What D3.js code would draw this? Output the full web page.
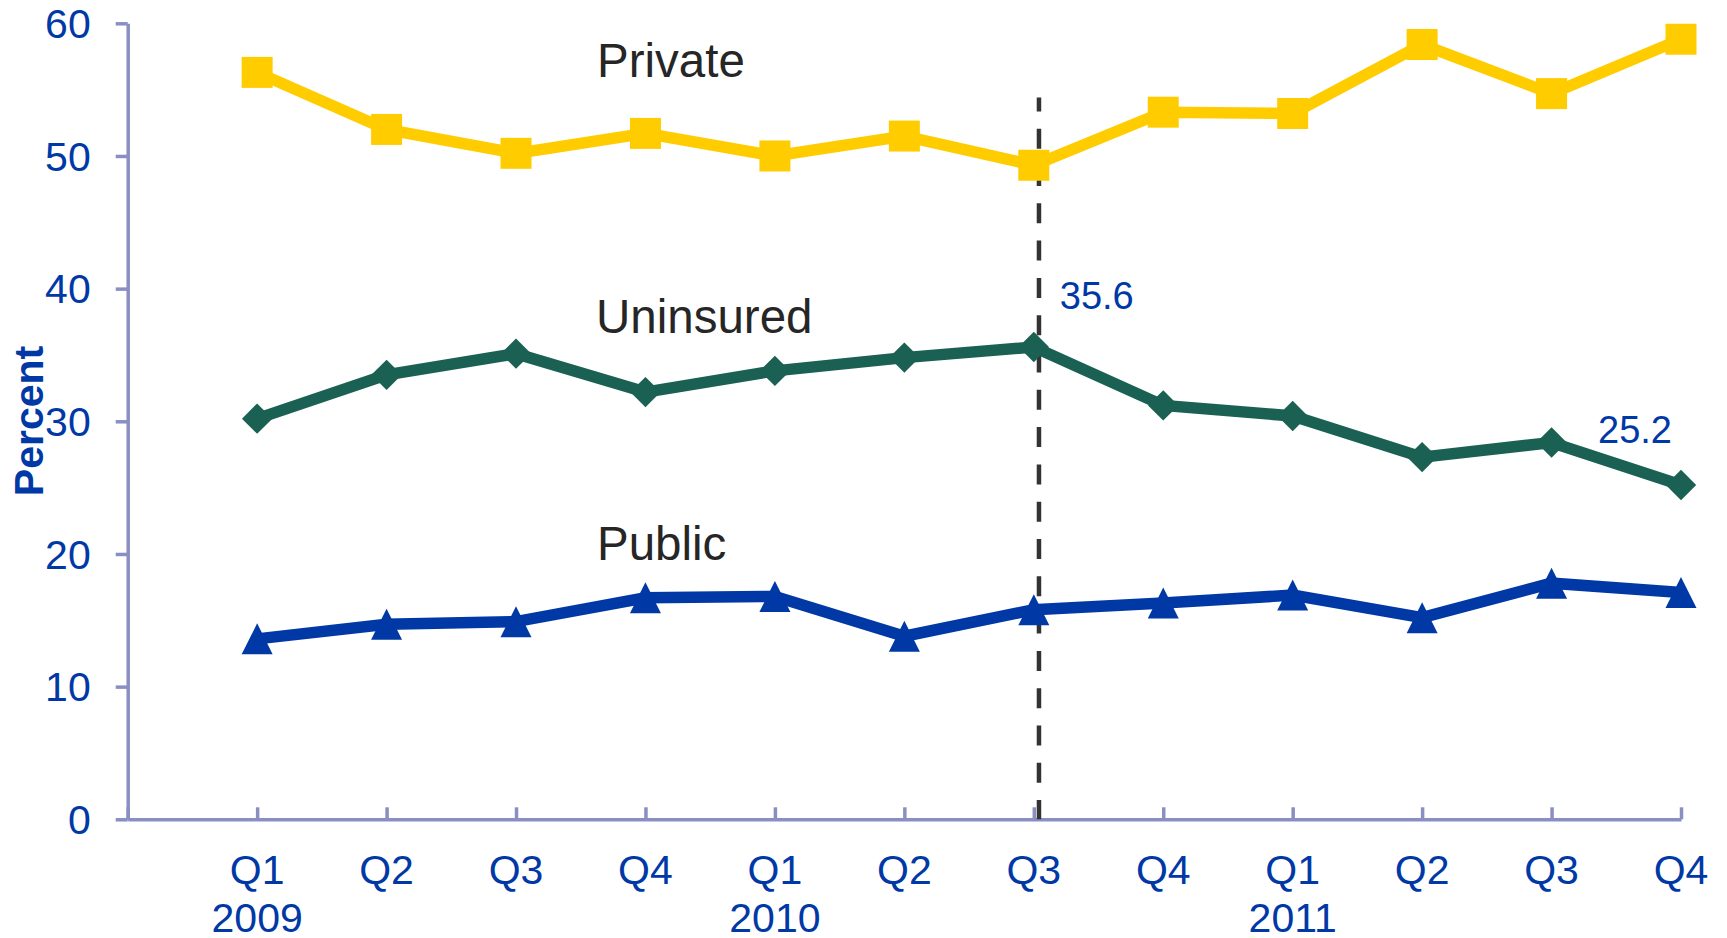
<!DOCTYPE html>
<html>
<head>
<meta charset="utf-8">
<script src="https://cdn.jsdelivr.net/npm/d3@7"></script>
<style>
  html, body { margin: 0; padding: 0; background: #ffffff; }
  svg { display: block; font-family: "Liberation Sans", Arial, Helvetica, sans-serif; }
</style>
</head>
<body>
<svg id="chart" width="1727" height="938"></svg>
<script>
// Quarterly share of coverage, percent
const quarters = ["Q1", "Q2", "Q3", "Q4", "Q1", "Q2", "Q3", "Q4", "Q1", "Q2", "Q3", "Q4"];
const years    = ["2009", "", "", "", "2010", "", "", "", "2011", "", "", ""];

const privateCov   = [56.3, 52.0, 50.2, 51.7, 50.0, 51.5, 49.3, 53.3, 53.2, 58.4, 54.7, 58.8];
const uninsuredCov = [30.2, 33.5, 35.1, 32.2, 33.8, 34.8, 35.6, 31.2, 30.4, 27.3, 28.4, 25.2];
const publicCov    = [13.6, 14.7, 14.9, 16.7, 16.8, 13.8, 15.8, 16.3, 16.9, 15.2, 17.8, 17.1];

const yTicks = [0, 10, 20, 30, 40, 50, 60];

// Vertical reference line (position on the quarter axis, top value in percent)
const eventPos = 7.04;
const eventTop = 54.4;

// Labelled values: [series values, index]
const callouts = [
  { values: uninsuredCov, index: 6, dx: 26, dy: -38, anchor: "start" },
  { values: uninsuredCov, index: 11, dx: -9, dy: -42, anchor: "end" }
];

const svg = d3.select("#chart");

const plotLeft = 127.7, plotRight = 1681, plotTop = 23.3, plotBottom = 819.3;
const x = d3.scaleLinear().domain([0, quarters.length]).range([plotLeft, plotRight]);
const y = d3.scaleLinear().domain([0, 60]).range([plotBottom, plotTop]);

const blue = "#0039a6";
const axisColor = "#8a8fc3";

// Y axis
const yAxis = svg.append("g")
  .attr("transform", `translate(${plotLeft},0)`)
  .call(d3.axisLeft(y).tickValues(yTicks).tickSize(12).tickSizeOuter(0).tickPadding(25).tickFormat(d3.format("d")));
yAxis.select(".domain").attr("stroke", axisColor).attr("stroke-width", 3.5);
yAxis.selectAll(".tick line").attr("stroke", axisColor).attr("stroke-width", 3.5);
yAxis.selectAll(".tick text")
  .attr("fill", blue).attr("font-size", 41).attr("dy", "0.35em")
  .attr("font-family", "Liberation Sans, Arial, sans-serif");

// X axis: ticks inside, two-line labels
const xAxis = svg.append("g")
  .attr("transform", `translate(0,${plotBottom})`)
  .call(d3.axisBottom(x).tickValues(d3.range(0, quarters.length + 1)).tickSize(-12).tickSizeOuter(0).tickFormat(""));
xAxis.select(".domain").attr("stroke", axisColor).attr("stroke-width", 3.5);
xAxis.selectAll(".tick line").attr("stroke", axisColor).attr("stroke-width", 3.5);

const xLabels = svg.append("g")
  .attr("fill", blue).attr("font-size", 41).attr("text-anchor", "middle");
quarters.forEach((q, i) => {
  const t = xLabels.append("text").attr("x", x(i + 1)).attr("y", plotBottom + 64.7);
  t.append("tspan").attr("x", x(i + 1)).text(q);
  if (years[i]) t.append("tspan").attr("x", x(i + 1)).attr("dy", 48).text(years[i]);
});

// Y axis title
svg.append("text")
  .attr("transform", `translate(43,421) rotate(-90)`)
  .attr("text-anchor", "middle")
  .attr("fill", blue).attr("font-size", 41).attr("font-weight", "bold")
  .text("Percent");

// Dashed reference line
svg.append("line")
  .attr("x1", x(eventPos)).attr("x2", x(eventPos))
  .attr("y1", y(eventTop)).attr("y2", y(0))
  .attr("stroke", "#333333").attr("stroke-width", 4.5)
  .attr("stroke-dasharray", "20,17.3").attr("stroke-dashoffset", 6.2);

// Series
const line = d3.line().x((d, i) => x(i + 1)).y(d => y(d));

const squarePath = d3.symbol().type(d3.symbolSquare).size(31 * 31)();
const diamondPath = d3.symbol().type(d3.symbolSquare).size(21.5 * 21.5)();
const trianglePath = "M0,-15.5L15.5,15.5L-15.5,15.5Z";

const series = [
  { name: "Private", values: privateCov, color: "#ffcc00", marker: squarePath, rotate: 0 },
  { name: "Uninsured", values: uninsuredCov, color: "#1a6153", marker: diamondPath, rotate: 45 },
  { name: "Public", values: publicCov, color: "#0039a6", marker: trianglePath, rotate: 0 }
];

series.forEach(s => {
  const g = svg.append("g");
  g.append("path")
    .datum(s.values)
    .attr("d", line)
    .attr("fill", "none")
    .attr("stroke", s.color)
    .attr("stroke-width", 11.5)
    .attr("stroke-linejoin", "miter");
  g.selectAll("path.marker")
    .data(s.values)
    .join("path")
    .attr("class", "marker")
    .attr("d", s.marker)
    .attr("transform", (d, i) => `translate(${x(i + 1)},${y(d)}) rotate(${s.rotate})`)
    .attr("fill", s.color);
});

// Series names
const nameLabels = [
  { text: "Private", x: 597, y: 76.7 },
  { text: "Uninsured", x: 596, y: 333.3 },
  { text: "Public", x: 597, y: 560 }
];
svg.append("g").selectAll("text")
  .data(nameLabels)
  .join("text")
  .attr("x", d => d.x).attr("y", d => d.y)
  .attr("fill", "#262626").attr("font-size", 47.5)
  .text(d => d.text);

// Value callouts
svg.append("g").selectAll("text")
  .data(callouts)
  .join("text")
  .attr("x", d => x(d.index + 1) + d.dx)
  .attr("y", d => y(d.values[d.index]) + d.dy)
  .attr("text-anchor", d => d.anchor)
  .attr("fill", blue).attr("font-size", 38)
  .text(d => d3.format(".1f")(d.values[d.index]));
</script>
</body>
</html>
